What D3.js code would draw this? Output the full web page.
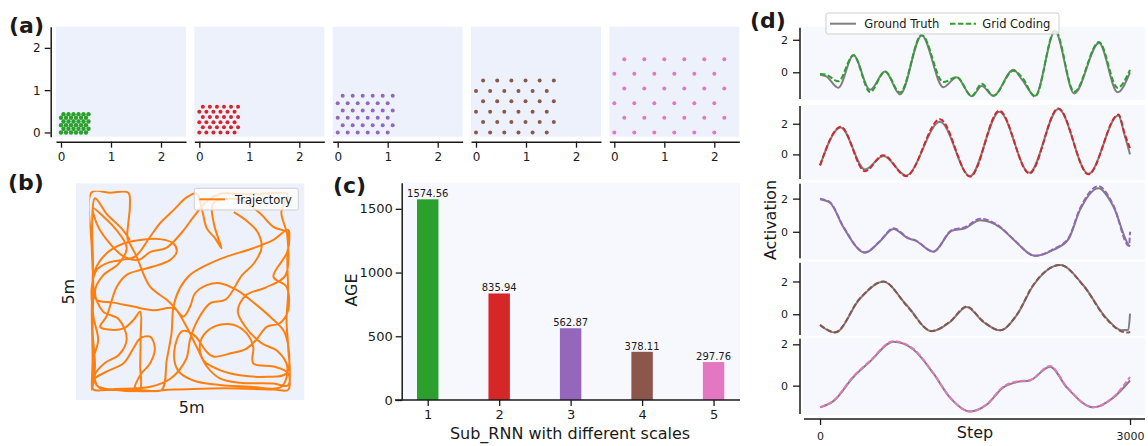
<!DOCTYPE html>
<html><head><meta charset="utf-8">
<script src="https://cdn.jsdelivr.net/npm/d3@7"></script>
<style>
body{margin:0;background:#fff}
text{font-family:"DejaVu Sans",sans-serif;fill:#1a1a1a}
.tick text{fill:#1a1a1a}
.tick line,.domain{stroke:#1a1a1a}
</style></head><body>
<script>
// (a) hexagonal lattice of each sub-RNN, one scale per module
var gridScales=[0.1,0.141,0.2,0.283,0.4]
var gridColors=["#2ca02c","#d62728","#9467bd","#8c564b","#e377c2"]
var gridRows=6,gridCols=6
var aTicks=[0,1,2]

// (b) trajectory in metres (5m x 5m box)
var trajectory=[[0.98,3.80],[0.77,4.09],[0.40,4.45],[0.10,4.85],[0.03,4.30],[0.05,3.20],[0.02,2.00],[0.04,0.80],[0.02,0.02],[0.10,0.60],[0.04,1.50],[0.06,2.60],[0.02,3.60],[0.02,5.00],
[0.48,4.99],[0.94,4.99],[0.98,4.64],[0.94,4.22],[0.92,3.84],[1.03,3.61],[1.15,3.38],
[1.49,2.62],[1.91,2.29],[2.16,2.03],[2.41,1.61],[2.66,1.11],[2.92,0.61],[3.25,0.31],[3.76,0.20],[4.60,0.18],[4.97,0.14],
[4.97,1.11],[4.93,1.78],[4.97,2.45],[4.95,3.29],[4.97,4.05],
[4.60,3.80],[4.09,3.59],[3.42,3.38],[2.92,3.17],[2.50,2.92],[2.24,2.58],[2.08,2.12],[2.03,1.45],[1.91,0.77],[1.78,0.02],
[1.24,0.02],[0.39,0.02],[0.06,0.03],
[0.06,0.27],[0.39,0.48],[0.82,0.69],[1.07,1.07],[1.24,1.32],[1.49,1.36],[1.61,1.07],[1.49,0.69],[1.24,0.39],[1.11,0.02],
[2.08,0.03],[3.34,0.06],[4.60,0.03],[4.97,0.02],
[4.97,0.44],[4.60,0.61],[4.09,0.69],[4.09,1.11],[3.92,1.45],[3.59,1.66],[3.25,1.66],[2.92,1.49],[2.75,1.19],[2.83,0.77],[3.25,0.52],[3.76,0.39],[4.43,0.35],[4.93,0.44],
[4.89,1.45],[4.51,1.87],[4.09,2.23],[3.67,2.54],[3.25,2.71],[2.92,2.66],[2.62,2.45],[2.50,2.12],
[2.33,1.87],[2.08,2.08],[1.57,2.03],[1.07,2.12],[0.56,2.22],[0.14,2.29],[0.04,2.62],[0.10,3.04],
[0.39,3.46],[0.82,3.71],[1.24,3.80],[1.74,3.82],[2.08,3.71],[2.16,3.50],[1.99,3.29],[1.57,3.13],[1.24,3.04],[0.90,2.92],[0.65,2.62],[0.39,1.87],[0.23,1.61],
[0.39,1.55],[0.82,1.57],[1.07,1.78],[1.24,1.99],[1.25,1.28],[1.24,0.61],[1.22,0.02],
[0.65,0.02],[0.14,0.14],[0.06,0.77],[0.18,1.28],[0.06,1.87],[0.02,2.62],[0.14,3.04],[0.39,3.21],[0.73,3.29],[1.11,3.38],[1.49,3.88],[1.74,4.22],[2.08,4.55],[2.41,4.87],[2.66,4.97],
[2.75,4.76],[2.83,4.43],[2.92,4.09],[3.13,3.84],[3.29,3.59],[3.10,4.20],[3.08,4.72],[3.76,4.81],[4.26,4.47],[4.60,4.13],[4.97,3.97],[4.95,3.50],
[4.60,2.87],[4.93,2.62],[4.97,2.03],[4.76,1.70],[4.43,1.61],[4.18,1.30],[3.90,1.05],[3.55,0.95],[3.08,0.86],
[2.90,1.00],[2.60,1.40],[2.30,1.50],[2.10,1.00],[2.20,0.50],[2.60,0.25],[3.20,0.15],[4.00,0.10],[4.80,0.10],[4.95,0.60],[4.70,1.00],[4.30,1.20],[3.90,1.60],[3.70,2.00],[3.90,2.40],[4.40,2.60],[4.90,2.90],[4.95,3.90],[4.80,4.50],[4.95,4.95],
[4.40,4.97],[3.80,4.95],[3.30,4.97],[2.95,4.80],[2.60,4.40],[2.30,4.00],[1.90,3.60],[1.50,3.50],[1.20,3.30],[0.80,3.40],[0.40,3.80],[0.15,4.20],[0.05,4.60],[0.30,4.40],[0.60,4.10],[0.90,3.60],[0.70,3.20],[0.30,2.90],[0.10,2.50],[0.30,2.00],[0.70,1.80],[0.90,1.30],[0.70,0.90],[0.35,0.70],[0.10,0.40],[0.20,0.08],
[0.80,0.05],[1.50,0.10],[2.00,0.30],[2.40,0.80],[2.50,1.30],[2.70,1.80],[3.00,2.20],[3.40,2.30],[3.80,2.90],[4.10,3.20],[4.30,3.60],[4.20,4.00],[3.90,4.30],[3.60,4.50]]

// (c) AGE per sub-RNN
var subRnn=[1,2,3,4,5]
var ageValues=[1574.56,835.94,562.87,378.11,297.76]
var ageTicks=[0,500,1000,1500]

// (d) activations, ground truth vs grid coding
var d1Steps=[0,60,177,323,484,629,774,984,1193,1323,1468,1565,1677,1871,1960,2081,2274,2460,2700,2880,3000]
var d1Truth=[-0.15,-0.25,-0.95,1.05,-1.08,0.05,-1.36,2.27,-0.92,-0.3,-1.48,-0.85,-1.45,0.15,-0.5,-1.45,2.52,-1.3,1.8,-1.23,0.0]
var d1Pred=[-0.1,-0.15,-0.55,1.05,-1.22,0.05,-1.25,2.3,-0.6,-0.3,-1.45,-0.7,-1.45,0.1,-0.35,-1.5,2.6,-1.2,1.86,-0.95,0.15]
var d2Steps=[0,200,435,613,832,1161,1452,1735,2026,2306,2597,2887,2950,3000]
var d2Truth=[-0.72,1.76,-0.99,-0.1,-1.38,2.13,-1.42,2.79,-1.2,2.96,-1.27,2.53,1.2,0.0]
var d2Pred=[-0.72,1.8,-1.1,-0.05,-1.42,2.3,-1.45,2.85,-1.25,3.0,-1.3,2.6,1.3,0.4]
var d3Steps=[0,97,226,435,581,710,855,919,1097,1274,1403,1548,1742,1871,2081,2258,2403,2516,2694,2839,2990,3000]
var d3Truth=[1.96,1.75,0.27,-1.26,-0.57,0.17,-0.4,-0.52,-1.2,0.06,0.21,0.69,0.27,-0.46,-1.45,-1.09,-0.46,1.32,2.63,1.53,-0.82,-0.88]
var d3Pred=[2.0,1.78,0.3,-1.24,-0.55,0.22,-0.38,-0.5,-1.2,0.1,0.28,0.78,0.3,-0.44,-1.45,-1.05,-0.4,1.4,2.75,1.6,-0.85,0.0]
var d4Steps=[0,145,387,613,839,1081,1258,1419,1581,1742,1903,2065,2323,2548,2774,2919,2984,3000]
var d4Truth=[-0.67,-1.12,0.96,1.98,0.55,-1.04,-0.47,0.45,-0.47,-0.98,-0.06,1.77,3.0,1.77,-0.26,-0.98,-0.95,0.04]
var d4Pred=[-0.65,-1.1,0.98,2.0,0.52,-1.02,-0.45,0.47,-0.45,-0.98,-0.04,1.8,3.0,1.75,-0.3,-1.05,-1.12,-1.05]
var d5Steps=[0,129,323,484,710,903,1097,1258,1452,1613,1774,1903,2032,2226,2387,2645,2839,3000]
var d5Truth=[-1.05,-0.75,0.42,1.17,2.12,1.75,0.59,-0.58,-1.25,-0.92,-0.08,0.17,0.25,0.92,-0.08,-1.05,-0.58,0.25]
var d5Pred=[-1.05,-0.73,0.45,1.2,2.15,1.78,0.6,-0.56,-1.25,-0.9,-0.05,0.2,0.27,0.95,-0.05,-1.05,-0.55,0.42]
var dTicks=[0,2]
var stepTicks=[0,3000]

var svg=d3.select("body").append("svg").attr("width",1148).attr("height",446)
var bgA="#edf1fc",bgC="#f7f8fe"
var fmt=d3.format("d")

var styleAxis=function(g,size){
  g.attr("font-size",size).attr("font-family","DejaVu Sans")
  g.selectAll(".domain").attr("stroke-width",1.5)
  g.selectAll(".tick line").attr("stroke-width",1.3)
}
var panelLabel=function(t,x,y){
  svg.append("text").text(t).attr("x",x).attr("y",y).attr("font-size",22).attr("font-weight","bold")
}

// ---------- (a)
var aLeft=[56,194.3,332.7,471,609.3],aW=130,aTop=26.7,aBottom=136.7
gridScales.forEach(function(s,k){
  var x0=aLeft[k]
  var xScale=d3.scaleLinear().domain([-0.1,2.5]).range([x0,x0+aW])
  var yScale=d3.scaleLinear().domain([-0.1,2.5]).range([aBottom,aTop])
  var g=svg.append("g")
  g.append("rect").attr("x",x0).attr("y",aTop).attr("width",aW).attr("height",aBottom-aTop).attr("fill",bgA)
  var pts=[]
  for(var j=0;j<gridRows;j++){
    for(var i=0;i<gridCols;i++){pts.push([i*s+(j%2)*s/2,j*s*Math.sqrt(3)/2])}
  }
  g.selectAll("circle").data(pts).enter().append("circle")
   .attr("cx",function(d){return xScale(d[0])})
   .attr("cy",function(d){return yScale(d[1])})
   .attr("r",k==0?2.2:2)
   .attr("fill",gridColors[k])
  var xa=g.append("g").attr("transform","translate(0,141.7)")
   .call(d3.axisBottom(xScale).tickValues(aTicks).tickSize(6).tickPadding(5).tickSizeOuter(0).tickFormat(fmt))
  styleAxis(xa,12)
  if(k==0){
    var ya=g.append("g").attr("transform","translate(50.7,0)")
     .call(d3.axisLeft(yScale).tickValues(aTicks).tickSize(6).tickPadding(4).tickSizeOuter(0).tickFormat(fmt))
    styleAxis(ya,12)
  }
})
panelLabel("(a)",9,33)

// ---------- (b)
var bx=d3.scaleLinear().domain([0,5]).range([91,289.3])
var by=d3.scaleLinear().domain([0,5]).range([390.7,192.3])
svg.append("rect").attr("x",76).attr("y",183.3).attr("width",228.3).attr("height",216.7).attr("fill",bgA)
svg.append("clipPath").attr("id","bclip").append("rect").attr("x",bx(0)-1.5).attr("y",by(5)-1.5).attr("width",bx(5)-bx(0)+3).attr("height",by(0)-by(5)+3)
svg.append("path").datum(trajectory)
   .attr("clip-path","url(#bclip)")
   .attr("d",d3.line().x(function(d){return bx(d[0])}).y(function(d){return by(d[1])}).curve(d3.curveCatmullRom.alpha(0.5)))
   .attr("fill","none").attr("stroke","#ff7f0e").attr("stroke-width",2).attr("stroke-linejoin","round")
var bl=svg.append("g")
bl.append("rect").attr("x",194.3).attr("y",188.3).attr("width",104).attr("height",21.7).attr("rx",2)
  .attr("fill","#fff").attr("fill-opacity",0.8).attr("stroke","#d0d0d0")
bl.append("line").attr("x1",199.3).attr("x2",225).attr("y1",199.3).attr("y2",199.3).attr("stroke","#ff7f0e").attr("stroke-width",2)
bl.append("text").text("Trajectory").attr("x",235).attr("y",203.5).attr("font-size",11.5)
svg.append("text").text("5m").attr("x",191.7).attr("y",412.5).attr("font-size",16).attr("text-anchor","middle")
svg.append("text").text("5m").attr("transform","translate(74,291.7) rotate(-90)").attr("font-size",16).attr("text-anchor","middle")
panelLabel("(b)",8,190)

// ---------- (c)
var cx=d3.scaleLinear().domain([0.65,5.37]).range([402.7,740])
var cy=d3.scaleLinear().domain([0,1705]).range([400,182.7])
var barW=cx(0.3)-cx(0)
svg.append("rect").attr("x",cx.range()[0]).attr("y",cy.range()[1]).attr("width",cx.range()[1]-cx.range()[0]).attr("height",cy.range()[0]-cy.range()[1]).attr("fill",bgC)
svg.append("g").selectAll("rect").data(ageValues).enter().append("rect")
   .attr("x",function(d,i){return cx(subRnn[i])-barW/2})
   .attr("y",function(d){return cy(d)})
   .attr("width",barW)
   .attr("height",function(d){return cy(0)-cy(d)})
   .attr("fill",function(d,i){return gridColors[i]})
svg.append("g").selectAll("text").data(ageValues).enter().append("text")
   .text(function(d){return d.toFixed(2)})
   .attr("x",function(d,i){return cx(subRnn[i])})
   .attr("y",function(d){return cy(d)-2})
   .attr("text-anchor","middle").attr("font-size",10)
var cxa=svg.append("g").attr("transform","translate(0,400)")
   .call(d3.axisBottom(cx).tickValues(subRnn).tickSize(6).tickPadding(4).tickSizeOuter(0).tickFormat(fmt))
styleAxis(cxa,13)
cxa.select(".domain").remove()
var cya=svg.append("g").attr("transform","translate(401.7,0)")
   .call(d3.axisLeft(cy).tickValues(ageTicks).tickSize(6).tickPadding(3).tickSizeOuter(0).tickFormat(fmt))
styleAxis(cya,13)
svg.append("line").attr("x1",395).attr("x2",740).attr("y1",400).attr("y2",400).attr("stroke","#1a1a1a").attr("stroke-width",1.5)
svg.append("text").text("AGE").attr("transform","translate(357,290) rotate(-90)").attr("font-size",16).attr("text-anchor","middle")
svg.append("text").text("Sub_RNN with different scales").attr("x",570).attr("y",439).attr("font-size",16).attr("text-anchor","middle")
panelLabel("(c)",333,193)

// ---------- (d)
var dSeries=[
  {steps:d1Steps,truth:d1Truth,pred:d1Pred,top:26.7,bottom:100},
  {steps:d2Steps,truth:d2Truth,pred:d2Pred,top:105,bottom:180},
  {steps:d3Steps,truth:d3Truth,pred:d3Pred,top:182.7,bottom:259.3},
  {steps:d4Steps,truth:d4Truth,pred:d4Pred,top:261.7,bottom:336},
  {steps:d5Steps,truth:d5Truth,pred:d5Pred,top:337.7,bottom:415}
]
var dx=d3.scaleLinear().domain([-165,3145]).range([803,1145])
dSeries.forEach(function(s,k){
  var ext=d3.extent(s.truth.concat(s.pred))
  var pad=(ext[1]-ext[0])*0.05
  var dy=d3.scaleLinear().domain([ext[0]-pad,ext[1]+pad]).range([s.bottom,s.top])
  var g=svg.append("g")
  g.append("rect").attr("x",dx.range()[0]).attr("y",s.top).attr("width",dx.range()[1]-dx.range()[0]).attr("height",s.bottom-s.top).attr("fill",bgC)
  var line=d3.line().x(function(d){return dx(d[0])}).y(function(d){return dy(d[1])}).curve(d3.curveMonotoneX)
  g.append("path").datum(s.steps.map(function(t,i){return [t,s.truth[i]]}))
   .attr("d",line).attr("fill","none").attr("stroke","#7f7f7f").attr("stroke-width",2)
  g.append("path").datum(s.steps.map(function(t,i){return [t,s.pred[i]]}))
   .attr("d",line).attr("fill","none").attr("stroke",gridColors[k]).attr("stroke-width",2).attr("stroke-dasharray","5.5,2.4")
  var ya=g.append("g").attr("transform","translate(800,0)")
   .call(d3.axisLeft(dy).tickValues(dTicks).tickSize(7).tickPadding(5).tickSizeOuter(0).tickFormat(fmt))
  styleAxis(ya,11)
  ya.select(".domain").attr("d","M0,"+(s.top+1)+"V"+(s.bottom-1))
})
var dxa=svg.append("g").attr("transform","translate(0,419)")
   .call(d3.axisBottom(dx).tickValues(stepTicks).tickSize(6).tickPadding(7).tickSizeOuter(0).tickFormat(fmt))
styleAxis(dxa,11)
dxa.select(".domain").attr("d","M804,0H1145")
svg.append("text").text("Step").attr("x",975).attr("y",437.5).attr("font-size",16).attr("text-anchor","middle")
svg.append("text").text("Activation").attr("transform","translate(776,220) rotate(-90)").attr("font-size",16).attr("text-anchor","middle")
var dl=svg.append("g")
dl.append("rect").attr("x",826).attr("y",13).attr("width",233).attr("height",21).attr("rx",2)
  .attr("fill","#fff").attr("fill-opacity",0.8).attr("stroke","#d0d0d0")
dl.append("line").attr("x1",830).attr("x2",856).attr("y1",23.7).attr("y2",23.7).attr("stroke","#7f7f7f").attr("stroke-width",2)
dl.append("text").text("Ground Truth").attr("x",864.3).attr("y",28).attr("font-size",11.5)
dl.append("line").attr("x1",950).attr("x2",976).attr("y1",23.7).attr("y2",23.7).attr("stroke","#2ca02c").attr("stroke-width",2).attr("stroke-dasharray","5.5,2.4")
dl.append("text").text("Grid Coding").attr("x",982.3).attr("y",28).attr("font-size",11.5)
panelLabel("(d)",750,28)
</script>
</body></html>
